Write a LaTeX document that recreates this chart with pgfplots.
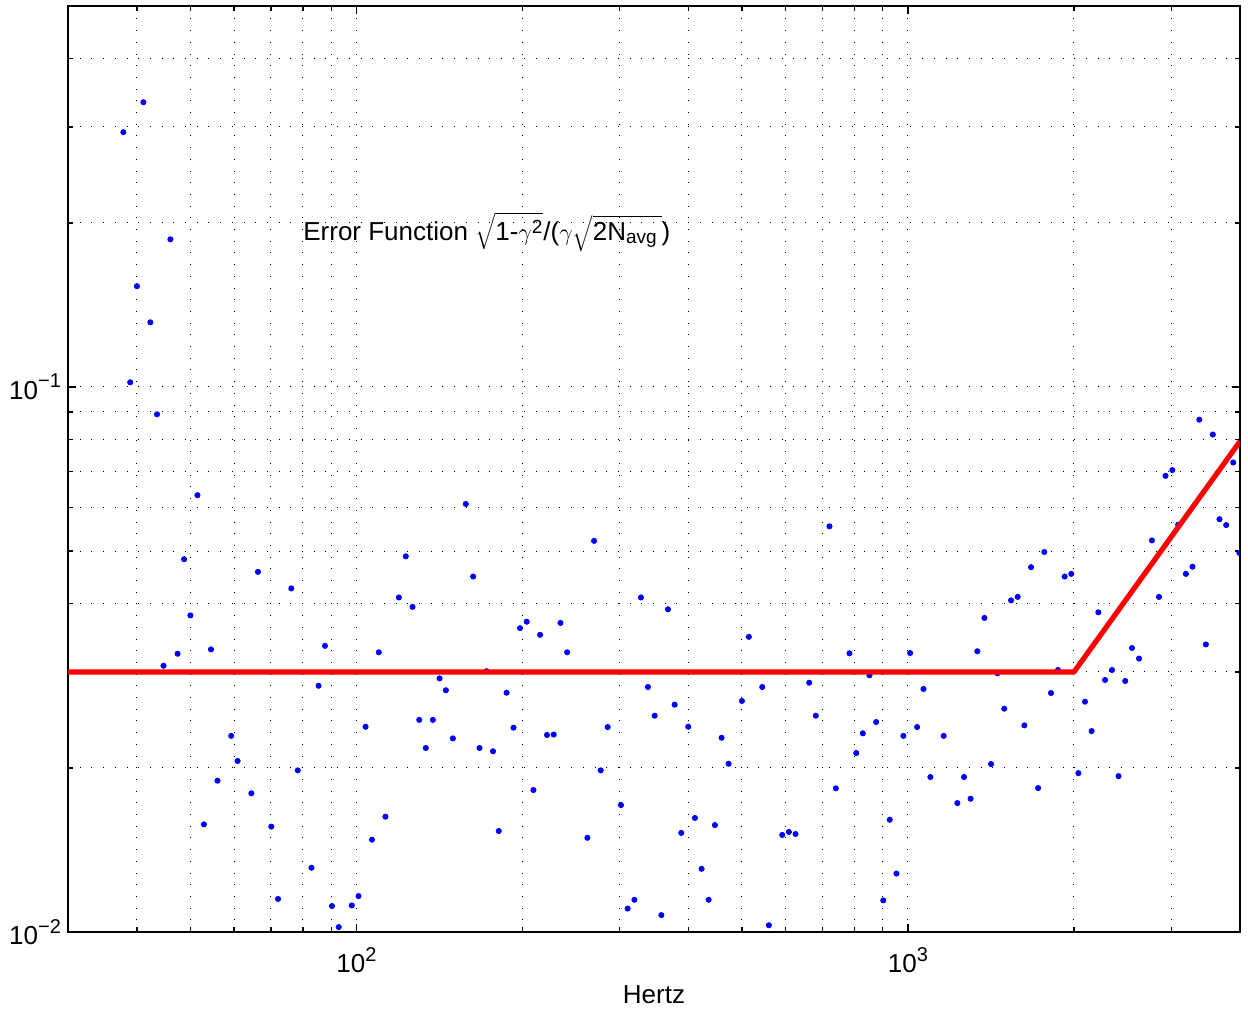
\documentclass[border=0pt]{standalone}
\usepackage{fontspec}
\setmainfont{Liberation Sans}
\usepackage{pgfplots}
\pgfplotsset{compat=1.18}
\newcommand{\sups}[1]{\raisebox{0.45em}{\fontsize{10}{11}\selectfont #1}}
\begin{document}
\begin{tikzpicture}
\begin{axis}[
  scale only axis, width=586pt, height=463pt,
  at={(0pt,0pt)}, anchor=south west,
  xmode=log, ymode=log,
  xmin=30, xmax=4000, ymin=0.01, ymax=0.5,
  xtick={100,1000}, xticklabels={10\sups{2},10\sups{3}},
  ytick={0.01,0.1}, yticklabels={10\sups{−2},10\sups{−1}},
  minor xtick={40,50,60,70,80,90,200,300,400,500,600,700,800,900,2000,3000},
  minor ytick={0.02,0.03,0.04,0.05,0.06,0.07,0.08,0.09,0.2,0.3,0.4},
  grid=both,
  major grid style={black, line width=0.5pt, dash pattern=on 0.5pt off 5.35pt},
  minor grid style={black, line width=0.5pt, dash pattern=on 0.5pt off 5.35pt},
  tick align=inside,
  major tick length=4pt, minor tick length=2.5pt,
  every tick/.style={black, line width=0.6pt},
  axis line style={black, line width=0.8pt},
  tick label style={font=\fontsize{13}{15}\selectfont},
  xticklabel style={yshift=-4pt},
  xlabel={Hertz},
  xlabel style={font=\fontsize{13}{15}\selectfont, at={(axis description cs:0.5,0)}, anchor=base, yshift=-35.5pt},
  clip marker paths=true,
]
\addplot[only marks, mark=*, mark size=1.3pt, color={rgb,1:red,0;green,0;blue,1}, mark options={draw=none}] coordinates {
(41.1,0.333) (37.8,0.2934) (46.0,0.1866) (40.0,0.1531) (42.3,0.1314)
(38.9,0.1020) (43.5,0.0891) (51.5,0.0633) (48.7,0.0483) (66.3,0.0458)
(76.2,0.0427) (50.0,0.0381) (47.4,0.0324) (54.5,0.0330) (44.7,0.0308)
(59.3,0.0229) (60.9,0.0206) (78.3,0.0198) (56.0,0.01895) (64.5,0.01797)
(52.9,0.01576) (70.1,0.01561) (72.1,0.01150)
(157.9,0.0610) (122.9,0.0489) (162.8,0.0449) (119.4,0.0411) (126.4,0.0395)
(87.7,0.0335) (109.8,0.0326) (141.5,0.0292) (145.3,0.02777) (85.4,0.0283)
(130.0,0.0245) (137.6,0.0245) (103.9,0.0238) (149.6,0.02266) (133.6,0.02176)
(167.2,0.02176) (176.9,0.02146) (112.9,0.01628) (106.7,0.01477) (181.2,0.01532)
(82.9,0.01312) (90.3,0.01116) (98.1,0.01119) (100.9,0.01164) (92.9,0.01021)
(172.2,0.0301)
(269.7,0.0522) (328.0,0.0411) (367.2,0.0391) (198.0,0.0361) (203.6,0.0371)
(215.3,0.0351) (234.4,0.0369) (241.0,0.0326) (187.2,0.02748) (337.8,0.02815)
(377.6,0.02613) (347.4,0.02494) (192.7,0.02371) (221.6,0.02299) (227.9,0.02303)
(285.5,0.02377) (399.7,0.0238) (277.3,0.0198) (209.4,0.01822) (301.8,0.0171)
(262.3,0.01489) (388.2,0.0152) (411.0,0.01619) (319.2,0.01146) (310.3,0.01104)
(357.2,0.01074)
(720.7,0.0555) (514.7,0.0348) (783.4,0.03246) (851.7,0.02958) (544.3,0.02815)
(662.2,0.02867) (500.0,0.02654) (680.8,0.02494) (875.8,0.02428) (828.2,0.02315)
(459.3,0.02272) (805.8,0.0213) (472.9,0.02036) (740.0,0.01835) (446.7,0.01571)
(591.7,0.01507) (608.3,0.01526) (625.5,0.01513) (926.8,0.01607) (422.6,0.01306)
(435.2,0.01146) (953.2,0.0128) (902.0,0.01143) (559.6,0.01029)
(1767,0.0498) (1672,0.0467) (1924,0.0449) (1978,0.0454) (1538,0.0406)
(1581,0.0412) (1376,0.0377) (2214,0.0386) (1009,0.0325) (1336,0.03274)
(1871,0.03025) (1453,0.02983) (1067,0.02792) (1817,0.02745) (2094,0.02646)
(1495,0.02569) (1039,0.02377) (1626,0.02394) (981,0.0229) (1161,0.0229)
(2153,0.02337) (1415,0.02033) (2037,0.01957) (1098,0.01925) (1264,0.01925)
(1722,0.01837) (1299,0.01756) (1229,0.01724)
(3375,0.0871) (3571,0.0818) (3888,0.0727) (3015,0.0704) (2931,0.0687)
(3672,0.0572) (3776,0.0558) (3990,0.0496) (3090,0.0559) (2769,0.0523)
(3280,0.0468) (3191,0.0454) (2852,0.0412) (3469,0.0337) (2548,0.0332)
(2624,0.03175) (2344,0.03025) (2277,0.0290) (2477,0.02888) (2409,0.01932)
};
\addplot[color={rgb,1:red,1;green,0;blue,0}, line width=2.6pt, line join=round] coordinates {
(30,0.03) (2000,0.03) (4000,0.0795)
};
\node[anchor=base west, inner sep=0pt, font=\fontsize{13}{15}\selectfont] at (axis cs:80,0.186)
  {Error Function $\sqrt{\mbox{1-}\gamma^{\mbox{\fontsize{9.5}{10}\selectfont 2}}}$/($\gamma\sqrt{\mbox{2N}_{\mbox{\fontsize{9.5}{10}\selectfont avg}}\,}$)};
\end{axis}
\pgfresetboundingbox
\path (-34pt,-39.5pt) rectangle (590pt,466pt);
\end{tikzpicture}
\end{document}
